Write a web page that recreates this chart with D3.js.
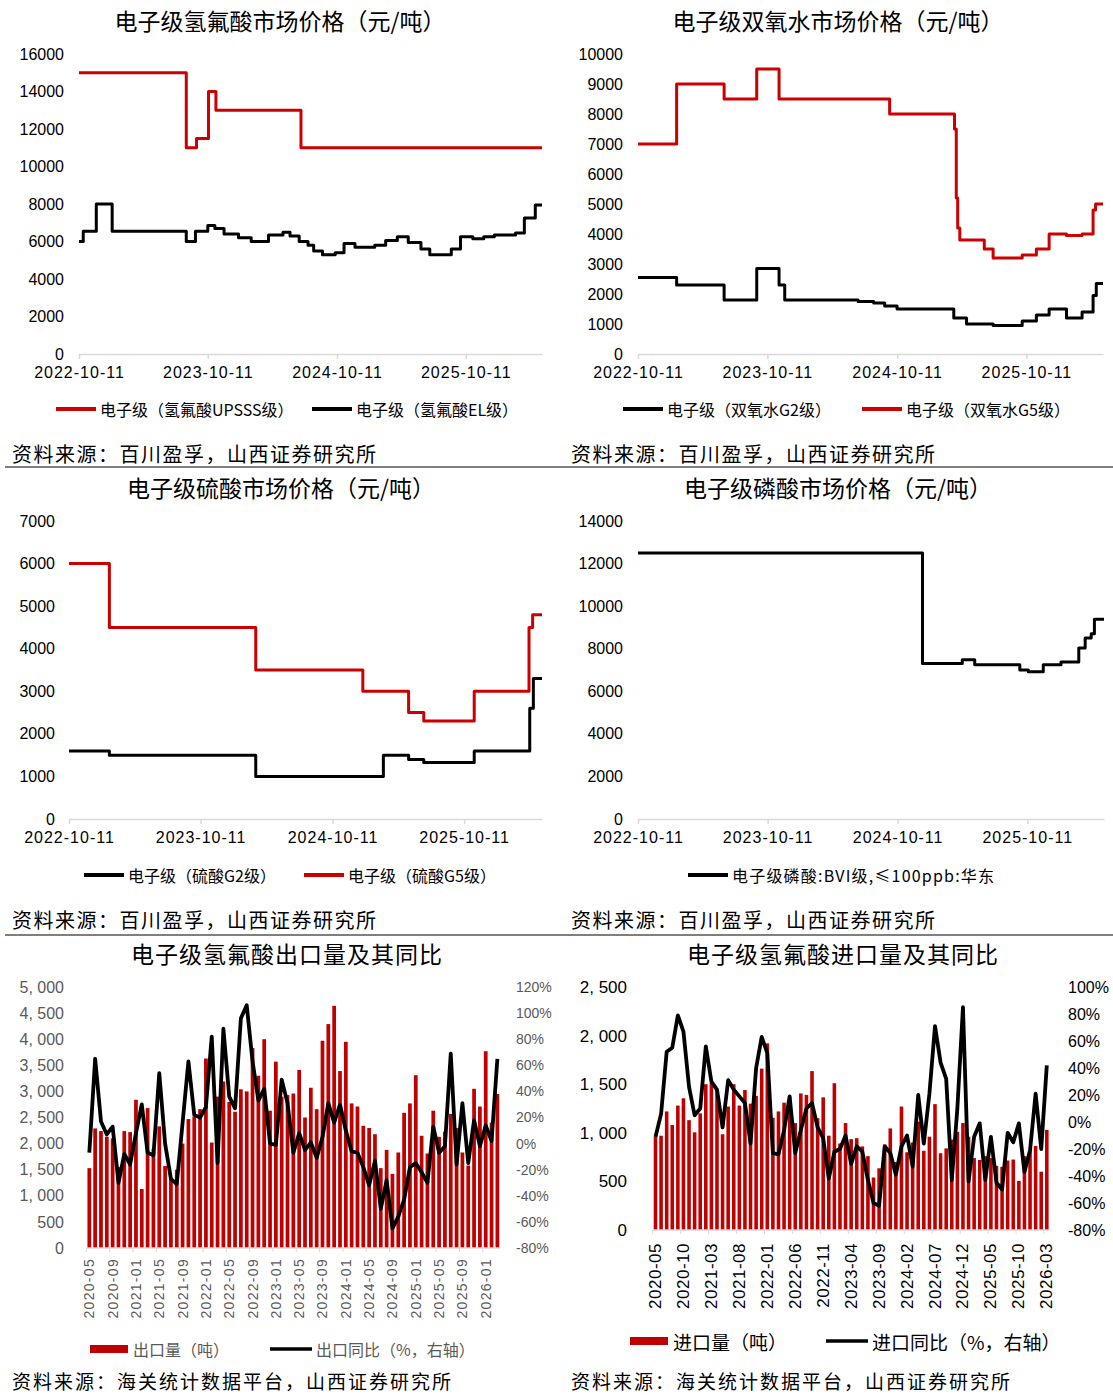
<!DOCTYPE html>
<html lang="zh">
<head>
<meta charset="utf-8">
<title>电子级化学品价格及氢氟酸进出口</title>
<script src="https://cdn.jsdelivr.net/npm/d3@7/dist/d3.min.js"></script>
<style>
  body { margin: 0; background: #fff; }
  svg { display: block; }
</style>
</head>
<body>
<script>
var w = 1113, h = 1395;
var RED = "#CC0000";
var BAR = "#C00000";
var cjk = '"Noto Sans CJK SC", "Noto Sans", sans-serif';
var latin = '"Liberation Sans", Arial, sans-serif';

// ---- price charts: shared date axis ----
var priceTicks = ["2022-10-11", "2023-10-11", "2024-10-11", "2025-10-11"];
var priceStart = "2022-10-11", priceEnd = "2026-05-15";

// 电子级氢氟酸 (元/吨) – [change date, price]
var hfUPSSS = [["2022-10-11",15000],["2023-08-11",11000],["2023-09-09",11500],["2023-10-13",14000],
  ["2023-11-03",13000],["2024-07-01",11000],["2026-05-15",11000]];
var hfEL = [["2022-10-11",6000],["2022-10-23",6550],["2022-11-29",8000],["2023-01-13",6550],["2023-08-11",6000],
  ["2023-09-06",6550],["2023-10-11",6850],["2023-10-31",6700],["2023-11-26",6400],["2024-01-06",6200],
  ["2024-02-11",6000],["2024-03-31",6350],["2024-05-11",6500],["2024-05-31",6300],["2024-06-26",6000],
  ["2024-07-21",5800],["2024-08-06",5500],["2024-08-31",5300],["2024-10-06",5400],["2024-10-31",5900],
  ["2024-12-01",5700],["2025-01-26",5800],["2025-02-26",6050],["2025-03-31",6250],["2025-05-01",5950],
  ["2025-06-06",5600],["2025-07-01",5300],["2025-08-31",5600],["2025-09-26",6250],["2025-10-31",6150],
  ["2025-12-01",6250],["2025-12-31",6350],["2026-03-01",6450],["2026-03-26",7250],["2026-04-26",7950],
  ["2026-05-15",7950]];

// 电子级双氧水 (元/吨)
var h2o2G2 = [["2022-10-11",2550],["2023-01-28",2300],["2023-06-11",1800],["2023-09-11",2850],["2023-11-13",2300],
  ["2023-11-29",1800],["2024-06-23",1750],["2024-08-06",1700],["2024-09-06",1600],["2024-10-11",1500],
  ["2025-03-20",1200],["2025-04-25",1000],["2025-07-09",950],["2025-09-29",1100],["2025-11-08",1300],
  ["2025-12-14",1500],["2026-02-01",1200],["2026-03-17",1400],["2026-04-17",1950],["2026-04-26",2350],
  ["2026-05-15",2350]];
var h2o2G5 = [["2022-10-11",7000],["2023-01-28",9000],["2023-06-11",8500],["2023-09-11",9500],["2023-11-13",8500],
  ["2024-09-20",8000],["2025-03-22",7500],["2025-03-27",5200],["2025-03-31",4200],["2025-04-06",3800],
  ["2025-06-14",3500],["2025-07-09",3200],["2025-09-29",3300],["2025-11-08",3500],["2025-12-14",4000],
  ["2026-02-01",3950],["2026-03-17",4000],["2026-04-17",4800],["2026-04-24",5000],["2026-05-15",5000]];

// 电子级硫酸 (元/吨)
var h2so4G2 = [["2022-10-11",1600],["2023-01-31",1500],["2024-03-12",1000],["2025-03-01",1500],["2025-05-10",1400],
  ["2025-06-21",1330],["2025-11-08",1600],["2026-04-11",2600],["2026-04-21",3300],["2026-05-15",3300]];
var h2so4G5 = [["2022-10-11",6000],["2023-01-31",4500],["2024-03-12",3500],["2025-01-03",3000],["2025-05-10",2500],
  ["2025-06-21",2300],["2025-11-08",3000],["2026-04-09",4500],["2026-04-19",4800],["2026-05-15",4800]];

// 电子级磷酸 (元/吨)
var h3po4 = [["2022-10-11",12500],["2024-12-20",7300],["2025-04-11",7480],["2025-05-16",7250],["2025-09-20",7000],
  ["2025-10-14",6920],["2025-11-25",7250],["2026-01-14",7370],["2026-03-05",8030],["2026-03-23",8500],
  ["2026-04-09",8700],["2026-04-18",9380],["2026-05-15",9380]];

// ---- monthly trade data, 2020-05 .. 2026-03 ----
var months = d3.timeMonth.range(new Date(2020, 4, 1), new Date(2026, 3, 1)).map(d3.timeFormat("%Y-%m"));
var exportTicks = ["2020-05","2020-09","2021-01","2021-05","2021-09","2022-01","2022-05","2022-09","2023-01",
  "2023-05","2023-09","2024-01","2024-05","2024-09","2025-01","2025-05","2025-09","2026-01"];
var importTicks = ["2020-05","2020-10","2021-03","2021-08","2022-01","2022-06","2022-11","2023-04","2023-09",
  "2024-02","2024-07","2024-12","2025-05","2025-10","2026-03"];

// 出口量 (吨) and 出口同比 (%)
var exportVol = [1530,2290,2240,2130,2100,1550,2240,2220,2840,1130,2680,1900,2330,1570,1350,1500,2000,2470,
  2520,2660,3630,2020,2900,3190,2800,2610,3040,3000,3830,3300,4000,2630,3570,2900,2930,2960,3410,2500,3070,
  2660,3970,4290,4640,3390,3950,2770,2710,2340,2300,2180,1530,1880,1420,1830,2590,2770,3310,2150,1810,2630,
  2130,2230,2570,2300,1830,1580,3050,2710,3770,2400,2950];
var exportYoY = [-7,65,17,7,13,-30,-8,-16,8,30,-7,-9,54,0,-27,-31,16,63,22,20,28,82,-15,88,36,27,96,106,63,
  33,42,0,-1,49,31,-7,8,-5,1,-11,5,31,16,30,10,-6,-7,-18,-32,-13,-50,-28,-65,-56,-43,-18,-15,-22,-30,13,-7,
  -2,69,-16,31,-15,18,-2,14,2,65];

// 进口量 (吨) and 进口同比 (%)
var importVol = [960,970,1220,1080,1280,1355,1130,1005,1200,1500,1515,1440,985,1270,1500,1280,1440,1300,1380,
  1660,1920,1155,1220,1310,1250,1100,1405,1390,1635,1150,1365,970,1510,890,1100,935,945,860,760,540,635,880,
  1045,700,1270,800,900,1115,815,960,1295,790,840,930,1010,1100,960,740,720,760,740,660,650,715,725,505,760,
  820,865,600,1030];
var importYoY = [-11,6,52,55,79,67,26,5,10,56,30,24,-4,31,24,19,14,-16,40,63,51,-23,-24,-6,19,-23,-6,10,14,-4,
  -12,-42,-22,-20,-10,-31,-18,-22,-43,-60,-62,-18,-23,-39,-18,-10,-33,20,-16,21,71,44,32,-43,10,85,-44,-11,-1,
  -43,-11,-45,-50,-8,-15,-1,-37,-21,21,-20,42];

var svg = d3.select("body").append("svg").attr("width", w).attr("height", h);
var parse = d3.timeParse("%Y-%m-%d");

function cjkText(x, y, str, size, anchor, color) {
  return svg.append("text").attr("x", x).attr("y", y)
    .attr("text-anchor", anchor || "start").attr("dominant-baseline", "central")
    .style("font-family", cjk).style("font-size", size + "px")
    .attr("fill", color || "#000").text(str);
}

function pricePanel(p) {
  var x = d3.scaleTime().domain([parse(priceStart), parse(priceEnd)]).range([p.x0, p.x1]);
  var y = d3.scaleLinear().domain([0, p.ymax]).range([p.yb, p.yt]);

  cjkText(p.cx, p.ty, p.title, 23, "middle");

  var gy = svg.append("g").attr("transform", "translate(" + p.lx + ",0)")
    .call(d3.axisLeft(y).tickValues(d3.range(0, p.ymax + 1, p.step)).tickSize(0).tickPadding(0).tickFormat(d3.format("d")))
    .attr("font-size", 16).attr("font-family", latin);
  gy.select(".domain").remove();
  gy.selectAll("text").attr("fill", "#000");

  var gx = svg.append("g").attr("transform", "translate(0," + p.yb + ")")
    .call(d3.axisBottom(x).tickValues(priceTicks.map(parse)).tickSizeInner(5).tickSizeOuter(0).tickPadding(8)
      .tickFormat(d3.timeFormat("%Y-%m-%d")))
    .attr("font-size", 16).attr("font-family", latin);
  gx.select(".domain").attr("stroke", "#d9d9d9").attr("stroke-width", 1.5);
  gx.selectAll(".tick line").attr("stroke", "#d9d9d9").attr("stroke-width", 1.5);
  gx.selectAll(".tick text").attr("fill", "#000").style("letter-spacing", "1px");

  var line = d3.line().x(function(d) { return x(parse(d[0])); }).y(function(d) { return y(d[1]); })
    .curve(d3.curveStepAfter);
  p.series.forEach(function(s) {
    svg.append("path").datum(s.data).attr("d", line).attr("fill", "none")
      .attr("stroke", s.color).attr("stroke-width", 3).attr("stroke-linejoin", "round");
  });

  p.series.forEach(function(s) {
    svg.append("line").attr("x1", s.lx).attr("x2", s.lx + 40).attr("y1", p.ly).attr("y2", p.ly)
      .attr("stroke", s.color).attr("stroke-width", 4);
    cjkText(s.lx + 44, p.ly, s.label, 16).style("letter-spacing", (s.ls || 0) + "px");
  });

  cjkText(p.sx, p.sy, "资料来源：百川盈孚，山西证券研究所", 20).style("letter-spacing", "1.5px");
}

function comboPanel(p) {
  var x = d3.scaleBand().domain(months).range([p.x0, p.x1]).paddingInner(0.36).paddingOuter(0.18);
  var yl = d3.scaleLinear().domain([0, p.lmax]).range([p.yb, p.yt]);
  var yr = d3.scaleLinear().domain([p.rmin, p.rmax]).range([p.yb, p.yt]);

  cjkText(p.cx, p.ty, p.title, 23, "middle").style("letter-spacing", "1px");

  svg.append("g").selectAll("rect").data(p.vol).join("rect")
    .attr("x", function(d, i) { return x(months[i]); })
    .attr("y", function(d) { return yl(d); })
    .attr("width", x.bandwidth())
    .attr("height", function(d) { return p.yb - yl(d); })
    .attr("fill", BAR);

  // category axis
  svg.append("line").attr("x1", p.x0).attr("x2", p.x1).attr("y1", p.yb).attr("y2", p.yb)
    .attr("stroke", "#d9d9d9").attr("stroke-width", 1.5);
  svg.append("g").selectAll("line").data(p.ticks).join("line")
    .attr("x1", function(d) { return x(d) - x.step() * 0.18; })
    .attr("x2", function(d) { return x(d) - x.step() * 0.18; })
    .attr("y1", p.yb).attr("y2", p.yb + 4).attr("stroke", "#d9d9d9");
  svg.append("g").selectAll("text").data(p.ticks).join("text")
    .attr("transform", function(d) {
      return "translate(" + (x(d) + x.bandwidth() / 2) + "," + (p.yb + p.xpad) + ") rotate(-90)";
    })
    .attr("text-anchor", "end").attr("dominant-baseline", "central")
    .style("font-family", latin).style("font-size", p.xfs + "px").style("letter-spacing", p.xls + "px")
    .attr("fill", p.tc).text(function(d) { return d; });

  var gl = svg.append("g").attr("transform", "translate(" + p.lx + ",0)")
    .call(d3.axisLeft(yl).tickValues(d3.range(0, p.lmax + 1, 500)).tickSize(0).tickPadding(0)
      .tickFormat(function(d) { return d3.format(",")(d).replace(",", ", "); }))
    .attr("font-size", p.lfs).attr("font-family", latin);
  gl.select(".domain").remove();
  gl.selectAll("text").attr("fill", p.tc);

  var gr = svg.append("g").attr("transform", "translate(" + p.rx + ",0)")
    .call(d3.axisRight(yr).tickValues(d3.range(p.rmin, p.rmax + 1, 20)).tickSize(0).tickPadding(0)
      .tickFormat(function(d) { return d + "%"; }))
    .attr("font-size", p.rfs).attr("font-family", latin);
  gr.select(".domain").remove();
  gr.selectAll("text").attr("fill", p.tc);

  var line = d3.line()
    .x(function(d, i) { return x(months[i]) + x.bandwidth() / 2; })
    .y(function(d) { return yr(d); });
  svg.append("path").datum(p.yoy).attr("d", line).attr("fill", "none")
    .attr("stroke", "#000").attr("stroke-width", 3.8).attr("stroke-linejoin", "round");

  svg.append("rect").attr("x", p.leg[0]).attr("y", p.ly - 4).attr("width", 38).attr("height", 8).attr("fill", BAR);
  cjkText(p.leg[0] + 43, p.ly, p.volLabel, p.lgfs, "start", p.tc);
  svg.append("line").attr("x1", p.leg[1]).attr("x2", p.leg[1] + 42).attr("y1", p.ly).attr("y2", p.ly)
    .attr("stroke", "#000").attr("stroke-width", 3.5);
  cjkText(p.leg[1] + 46, p.ly, p.yoyLabel, p.lgfs, "start", p.tc);

  cjkText(p.sx, p.sy, "资料来源：海关统计数据平台，山西证券研究所", 19).style("letter-spacing", "2px");
}

pricePanel({
  title: "电子级氢氟酸市场价格（元/吨）", cx: 280, ty: 20,
  x0: 79, x1: 542, yb: 354, yt: 54, ymax: 16000, step: 2000, lx: 64, ly: 409, sx: 12, sy: 453,
  series: [
    { data: hfUPSSS, color: RED, lx: 56, label: "电子级（氢氟酸UPSSS级）" },
    { data: hfEL, color: "#000", lx: 312, label: "电子级（氢氟酸EL级）" }
  ]
});
pricePanel({
  title: "电子级双氧水市场价格（元/吨）", cx: 838, ty: 20,
  x0: 638, x1: 1103, yb: 354, yt: 54, ymax: 10000, step: 1000, lx: 623, ly: 409, sx: 571, sy: 453,
  series: [
    { data: h2o2G2, color: "#000", lx: 623, label: "电子级（双氧水G2级）" },
    { data: h2o2G5, color: RED, lx: 862, label: "电子级（双氧水G5级）" }
  ]
});
pricePanel({
  title: "电子级硫酸市场价格（元/吨）", cx: 281, ty: 487,
  x0: 69, x1: 542, yb: 819, yt: 521, ymax: 7000, step: 1000, lx: 55, ly: 875, sx: 12, sy: 919,
  series: [
    { data: h2so4G2, color: "#000", lx: 84, label: "电子级（硫酸G2级）" },
    { data: h2so4G5, color: RED, lx: 304, label: "电子级（硫酸G5级）" }
  ]
});
pricePanel({
  title: "电子级磷酸市场价格（元/吨）", cx: 838, ty: 487,
  x0: 638, x1: 1104, yb: 819, yt: 521, ymax: 14000, step: 2000, lx: 623, ly: 875, sx: 571, sy: 919,
  series: [
    { data: h3po4, color: "#000", lx: 688, ls: 1.2, label: "电子级磷酸:BVI级,≤100ppb:华东" }
  ]
});

comboPanel({
  title: "电子级氢氟酸出口量及其同比", cx: 287, ty: 953,
  x0: 86.4, x1: 500.3, yb: 1248, yt: 987, lmax: 5000, rmin: -80, rmax: 120,
  lx: 64, rx: 516, lfs: 16, rfs: 14, xfs: 14, xls: 1.3, xpad: 10, tc: "#595959",
  ticks: exportTicks, vol: exportVol, yoy: exportYoY,
  leg: [90, 270], ly: 1349, lgfs: 16, volLabel: "出口量（吨）", yoyLabel: "出口同比（%，右轴）",
  sx: 12, sy: 1380
});
comboPanel({
  title: "电子级氢氟酸进口量及其同比", cx: 843, ty: 953,
  x0: 652.7, x1: 1049.6, yb: 1230, yt: 987, lmax: 2500, rmin: -80, rmax: 100,
  lx: 627, rx: 1068, lfs: 17, rfs: 16, xfs: 17, xls: 0.5, xpad: 13, tc: "#000",
  ticks: importTicks, vol: importVol, yoy: importYoY,
  leg: [630, 826], ly: 1341, lgfs: 19, volLabel: "进口量（吨）", yoyLabel: "进口同比（%，右轴）",
  sx: 571, sy: 1380
});

// panel separators
[467, 935].forEach(function(yy) {
  svg.append("line").attr("x1", 5).attr("x2", w).attr("y1", yy).attr("y2", yy)
    .attr("stroke", "#555").attr("stroke-width", 1.5);
});
</script>
</body>
</html>
